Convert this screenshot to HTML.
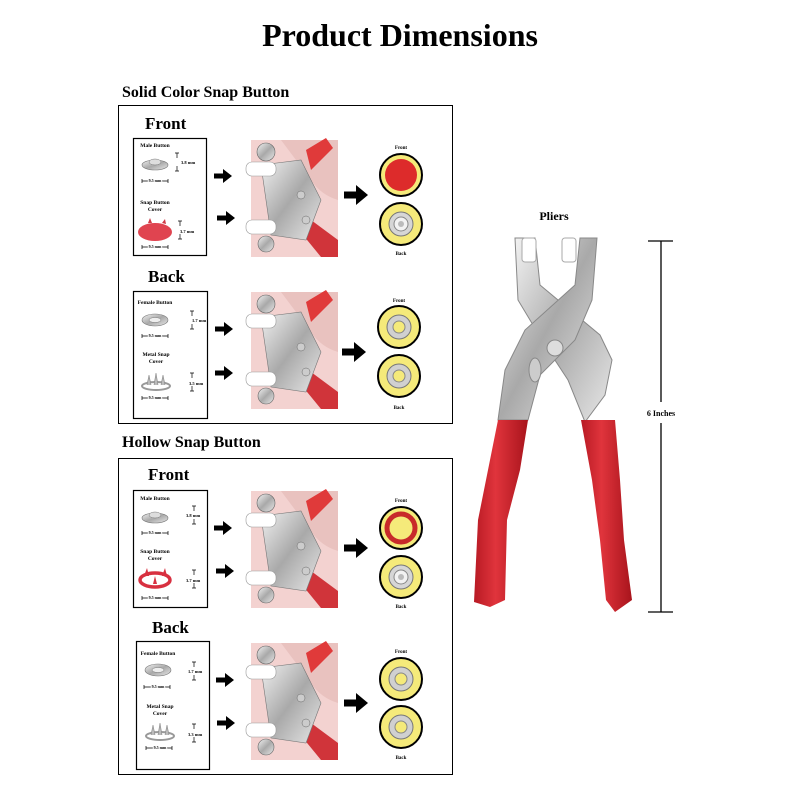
<!DOCTYPE html>
<html><head><meta charset="utf-8"><style>
html,body{margin:0;padding:0;background:#fff;}
svg{display:block;font-family:"Liberation Serif",serif;font-weight:bold;}
</style></head><body>
<svg width="800" height="800" viewBox="0 0 800 800" xmlns="http://www.w3.org/2000/svg">
<defs>
  <linearGradient id="met" x1="0" y1="0" x2="1" y2="1">
    <stop offset="0" stop-color="#f2f2f2"/><stop offset=".5" stop-color="#a9a9a9"/><stop offset="1" stop-color="#e8e8e8"/>
  </linearGradient>
  <linearGradient id="red" x1="0" y1="0" x2="1" y2="0">
    <stop offset="0" stop-color="#b81a24"/><stop offset=".4" stop-color="#e0343c"/><stop offset="1" stop-color="#a8141c"/>
  </linearGradient>
  <g id="hand">
    <rect x="0" y="0" width="87" height="117" fill="#f3d2d0"/>
    <path d="M30 0 L87 0 L87 60 Q70 55 60 40 Z" fill="#e9c2bf"/>
    <path d="M55 10 L75 -2 L82 8 L60 30 Z" fill="#e03a3a"/>
    <path d="M60 80 L87 100 L87 117 L70 117 L52 95 Z" fill="#d0343a"/>
    <path d="M10 25 L50 20 L70 60 L55 100 L20 95 Z" fill="url(#met)" stroke="#777" stroke-width=".6"/>
    <circle cx="15" cy="12" r="9" fill="url(#met)" stroke="#666" stroke-width=".6"/>
    <rect x="-5" y="22" width="30" height="14" rx="6" fill="#fff" stroke="#999" stroke-width=".6"/>
    <rect x="-5" y="80" width="30" height="14" rx="6" fill="#fff" stroke="#999" stroke-width=".6"/>
    <circle cx="15" cy="104" r="8" fill="url(#met)" stroke="#666" stroke-width=".6"/>
    <circle cx="50" cy="55" r="4" fill="#ccc" stroke="#666" stroke-width=".5"/>
    <circle cx="55" cy="80" r="4" fill="#ccc" stroke="#666" stroke-width=".5"/>
  </g>
  <g id="sarrow"><rect x="0" y="-2.5" width="10" height="5" fill="#000"/><path d="M9 -7 L18 0 L9 7 Z" fill="#000"/></g>
  <g id="barrow"><rect x="0" y="-3.5" width="13" height="7" fill="#000"/><path d="M12 -10 L24 0 L12 10 Z" fill="#000"/></g>
  <g id="circY"><circle r="21" fill="#f5ea7a" stroke="#000" stroke-width="2"/><circle r="12" fill="#d6d6d6" stroke="#777"/><circle r="7" fill="#f2f2f2" stroke="#888"/><circle r="3" fill="#bbb"/></g>
  <g id="circF"><circle r="21" fill="#f5ea7a" stroke="#000" stroke-width="2"/><circle r="12" fill="#d0d0d0" stroke="#777"/><circle r="6" fill="#f5ea7a" stroke="#888"/></g>
  <g id="maleBtn"><ellipse cx="0" cy="2" rx="13" ry="5" fill="url(#met)" stroke="#777" stroke-width=".6"/><ellipse cx="0" cy="-1" rx="6" ry="3" fill="#ddd" stroke="#777" stroke-width=".5"/></g>
  <g id="femBtn"><ellipse cx="0" cy="0" rx="13" ry="6" fill="url(#met)" stroke="#777" stroke-width=".6"/><ellipse cx="0" cy="0" rx="6" ry="2.5" fill="#eee" stroke="#777" stroke-width=".5"/></g>
  <g id="prongs"><ellipse cx="0" cy="3" rx="14" ry="4" fill="none" stroke="#999" stroke-width="2"/><path d="M-9 2 L-7 -8 L-5 2 M-2 2 L0 -10 L2 2 M5 2 L7 -8 L9 2" fill="#bbb" stroke="#888" stroke-width=".6"/></g>
  <g id="dim"><path d="M0 0 H26 M0 -2 V2 M26 -2 V2" stroke="#000" stroke-width=".7" fill="none"/></g>
  <g id="vdim"><path d="M-2 0 H2 M0 0 V5 M0 13 V18 M-2 18 H2" stroke="#000" stroke-width=".7" fill="none"/></g>
</defs>

<text x="400" y="46" text-anchor="middle" font-size="32">Product Dimensions</text>
<text x="122" y="97" font-size="16">Solid Color Snap Button</text>
<text x="122" y="447" font-size="16">Hollow Snap Button</text>

<!-- Panel 1 -->
<g transform="translate(118,105)">
  <rect x="0.5" y="0.5" width="334" height="318" fill="none" stroke="#000"/>
  <text x="27" y="24" font-size="17">Front</text>
  <rect x="15.5" y="33.5" width="73" height="117" fill="none" stroke="#000" stroke-width="1.2"/>
  <text x="37" y="42" font-size="5.5" text-anchor="middle">Male Button</text>
  <use href="#maleBtn" x="37" y="58"/>
  <use href="#vdim" x="59" y="48"/><text x="63" y="59" font-size="4.5">3.8 mm</text>
  <use href="#dim" x="24" y="76"/><text x="37" y="77" font-size="4" text-anchor="middle" fill="#000" style="paint-order:stroke" stroke="#fff" stroke-width="2">9.5 mm</text>
  <text x="37" y="99" font-size="5.5" text-anchor="middle">Snap Button</text>
  <text x="37" y="106" font-size="5.5" text-anchor="middle">Cover</text>
  <ellipse cx="37" cy="127" rx="17" ry="9" fill="#e04450"/>
  <path d="M30 118 L32 113 L34 118 M44 118 L47 114 L48 119" fill="#d03a46"/>
  <use href="#vdim" x="62" y="116"/><text x="62" y="128" font-size="4.5">3.7 mm</text>
  <use href="#dim" x="24" y="142"/><text x="37" y="143" font-size="4" text-anchor="middle" style="paint-order:stroke" stroke="#fff" stroke-width="2">9.5 mm</text>
  <use href="#hand" x="133" y="35"/>
  <use href="#sarrow" x="96" y="71"/><use href="#sarrow" x="99" y="113"/>
  <use href="#barrow" x="226" y="90"/>
  <text x="283" y="44" font-size="5" text-anchor="middle">Front</text>
  <circle cx="283" cy="70" r="21" fill="#f5ea7a" stroke="#000" stroke-width="2"/><circle cx="283" cy="70" r="16" fill="#dd2b2b"/>
  <use href="#circY" x="283" y="119"/>
  <text x="283" y="150" font-size="5" text-anchor="middle">Back</text>

  <text x="30" y="177" font-size="17">Back</text>
  <rect x="15.5" y="186.5" width="74" height="127" fill="none" stroke="#000" stroke-width="1.2"/>
  <text x="37" y="199" font-size="5.5" text-anchor="middle">Female Button</text>
  <use href="#femBtn" x="37" y="215"/>
  <use href="#vdim" x="74" y="206"/><text x="74" y="217" font-size="4.5">1.7 mm</text>
  <use href="#dim" x="24" y="231"/><text x="37" y="232" font-size="4" text-anchor="middle" style="paint-order:stroke" stroke="#fff" stroke-width="2">9.5 mm</text>
  <text x="38" y="251" font-size="5.5" text-anchor="middle">Metal Snap</text>
  <text x="38" y="258" font-size="5.5" text-anchor="middle">Cover</text>
  <use href="#prongs" x="38" y="278"/>
  <use href="#vdim" x="74" y="268"/><text x="71" y="280" font-size="4.5">3.5 mm</text>
  <use href="#dim" x="24" y="293"/><text x="37" y="294" font-size="4" text-anchor="middle" style="paint-order:stroke" stroke="#fff" stroke-width="2">9.5 mm</text>
  <use href="#hand" x="133" y="187"/>
  <use href="#sarrow" x="97" y="224"/><use href="#sarrow" x="97" y="268"/>
  <use href="#barrow" x="224" y="247"/>
  <text x="281" y="197" font-size="5" text-anchor="middle">Front</text>
  <use href="#circF" x="281" y="222"/><use href="#circF" x="281" y="271"/>
  <text x="281" y="304" font-size="5" text-anchor="middle">Back</text>
</g>

<!-- Panel 2 -->
<g transform="translate(118,458)">
  <rect x="0.5" y="0.5" width="334" height="316" fill="none" stroke="#000"/>
  <text x="30" y="22" font-size="17">Front</text>
  <rect x="15.5" y="32.5" width="74" height="117" fill="none" stroke="#000" stroke-width="1.2"/>
  <text x="37" y="42" font-size="5.5" text-anchor="middle">Male Button</text>
  <use href="#maleBtn" x="37" y="58"/>
  <use href="#vdim" x="76" y="48"/><text x="68" y="59" font-size="4.5">3.8 mm</text>
  <use href="#dim" x="24" y="75"/><text x="37" y="76" font-size="4" text-anchor="middle" style="paint-order:stroke" stroke="#fff" stroke-width="2">9.5 mm</text>
  <text x="37" y="95" font-size="5.5" text-anchor="middle">Snap Button</text>
  <text x="37" y="102" font-size="5.5" text-anchor="middle">Cover</text>
  <ellipse cx="37" cy="122" rx="15" ry="7" fill="none" stroke="#d83040" stroke-width="3.5"/>
  <path d="M26 118 L29 110 L31 118 M44 118 L47 110 L49 118 M35 126 L37 118 L39 126" fill="#d83040"/>
  <use href="#vdim" x="76" y="112"/><text x="68" y="124" font-size="4.5">3.7 mm</text>
  <use href="#dim" x="24" y="140"/><text x="37" y="141" font-size="4" text-anchor="middle" style="paint-order:stroke" stroke="#fff" stroke-width="2">9.5 mm</text>
  <use href="#hand" x="133" y="33"/>
  <use href="#sarrow" x="96" y="70"/><use href="#sarrow" x="98" y="113"/>
  <use href="#barrow" x="226" y="90"/>
  <text x="283" y="44" font-size="5" text-anchor="middle">Front</text>
  <circle cx="283" cy="70" r="21" fill="#f5ea7a" stroke="#000" stroke-width="2"/><circle cx="283" cy="70" r="14" fill="none" stroke="#c82a2a" stroke-width="5"/>
  <use href="#circY" x="283" y="119"/>
  <text x="283" y="150" font-size="5" text-anchor="middle">Back</text>

  <text x="34" y="175" font-size="17">Back</text>
  <rect x="18.5" y="183.5" width="73" height="128" fill="none" stroke="#000" stroke-width="1.2"/>
  <text x="40" y="197" font-size="5.5" text-anchor="middle">Female Button</text>
  <use href="#femBtn" x="40" y="212"/>
  <use href="#vdim" x="76" y="204"/><text x="70" y="215" font-size="4.5">1.7 mm</text>
  <use href="#dim" x="26" y="229"/><text x="40" y="230" font-size="4" text-anchor="middle" style="paint-order:stroke" stroke="#fff" stroke-width="2">9.5 mm</text>
  <text x="42" y="250" font-size="5.5" text-anchor="middle">Metal Snap</text>
  <text x="42" y="257" font-size="5.5" text-anchor="middle">Cover</text>
  <use href="#prongs" x="42" y="275"/>
  <use href="#vdim" x="76" y="266"/><text x="70" y="278" font-size="4.5">3.3 mm</text>
  <use href="#dim" x="28" y="290"/><text x="42" y="291" font-size="4" text-anchor="middle" style="paint-order:stroke" stroke="#fff" stroke-width="2">9.5 mm</text>
  <use href="#hand" x="133" y="185"/>
  <use href="#sarrow" x="98" y="222"/><use href="#sarrow" x="99" y="265"/>
  <use href="#barrow" x="226" y="245"/>
  <text x="283" y="195" font-size="5" text-anchor="middle">Front</text>
  <use href="#circF" x="283" y="221"/><use href="#circF" x="283" y="269"/>
  <text x="283" y="301" font-size="5" text-anchor="middle">Back</text>
</g>

<!-- Pliers -->
<text x="554" y="220" font-size="12" text-anchor="middle">Pliers</text>
<g>
  <path d="M515 238 L535 238 L540 285 L600 335 L612 360 L605 395 L585 422 L568 380 L545 345 L518 300 Z" fill="url(#met)" stroke="#888" stroke-width="1"/>
  <path d="M597 238 L580 238 L575 285 L525 330 L505 370 L498 420 L528 420 L540 375 L575 340 L592 300 Z" fill="url(#met)" stroke="#888" stroke-width="1"/>
  <rect x="522" y="238" width="14" height="24" rx="3" fill="#fff" stroke="#aaa"/>
  <rect x="562" y="238" width="14" height="24" rx="3" fill="#fff" stroke="#aaa"/>
  <circle cx="555" cy="348" r="8" fill="#ddd" stroke="#888"/>
  <ellipse cx="535" cy="370" rx="6" ry="12" fill="#ccc" stroke="#888"/>
  <path d="M498 420 L528 420 L520 470 L507 520 L505 600 L490 607 L474 602 L478 520 L490 460 Z" fill="url(#red)"/>
  <path d="M581 420 L615 420 L620 480 L624 540 L632 600 L615 612 L606 600 L600 540 L592 480 Z" fill="url(#red)"/>
</g>
<path d="M648 241 H673 M661 241 V402 M661 423 V612 M648 612 H673" stroke="#000" stroke-width="1.3" fill="none"/>
<text x="661" y="416" font-size="8" text-anchor="middle">6 Inches</text>
</svg>
</body></html>
